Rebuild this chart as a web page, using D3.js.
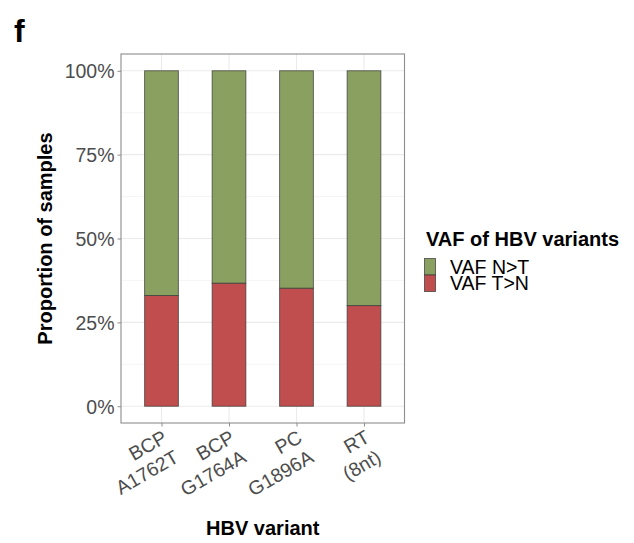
<!DOCTYPE html>
<html>
<head>
<meta charset="utf-8">
<script src="https://cdn.jsdelivr.net/npm/d3@7"></script>
<style>
  html, body { margin: 0; padding: 0; background: #fff; }
  svg { display: block; font-family: "Liberation Sans", Arial, sans-serif; }
</style>
</head>
<body>
<svg id="chart" width="634" height="543"></svg>
<script>
// HBV variant categories (two-line tick labels)
const categories = ["BCP A1762T", "BCP G1764A", "PC G1896A", "RT (8nt)"];
const categoryLines = [["BCP", "A1762T"], ["BCP", "G1764A"], ["PC", "G1896A"], ["RT", "(8nt)"]];
// Proportion of samples with VAF T>N (tumour > normal); remainder is N>T
const vafTgtN = [0.330, 0.367, 0.352, 0.300];
const vafNgtT = vafTgtN.map(v => 1 - v);
const seriesNames = ["VAF N>T", "VAF T>N"];
const seriesColors = ["#8aa060", "#c04e4e"];
const yTicks = [0, 0.25, 0.5, 0.75, 1];
const yMinor = [0.125, 0.375, 0.625, 0.875];

const svg = d3.select("#chart");
const panel = { left: 121, right: 404.5, top: 54, bottom: 423 };

// ggplot-like expansion: 5% on continuous y, 0.6 units on discrete x
const y = d3.scaleLinear()
  .domain([-0.05, 1.05])
  .range([panel.bottom, panel.top]);
const x = d3.scalePoint()
  .domain(categories)
  .range([panel.left, panel.right])
  .padding(0.6);
const barW = x.step() * 0.5;

// Gridlines
const grid = svg.append("g");
grid.selectAll(".minor").data(yMinor).join("line")
  .attr("x1", panel.left).attr("x2", panel.right)
  .attr("y1", d => y(d)).attr("y2", d => y(d))
  .attr("stroke", "#f3f3f3").attr("stroke-width", 0.8);
grid.selectAll(".major").data(yTicks).join("line")
  .attr("x1", panel.left).attr("x2", panel.right)
  .attr("y1", d => y(d)).attr("y2", d => y(d))
  .attr("stroke", "#ebebeb").attr("stroke-width", 1.1);
grid.selectAll(".vmajor").data(categories).join("line")
  .attr("x1", d => x(d)).attr("x2", d => x(d))
  .attr("y1", panel.top).attr("y2", panel.bottom)
  .attr("stroke", "#ebebeb").attr("stroke-width", 1.1);

// Stacked bars
const stackData = categories.map((c, i) => ({ cat: c, "VAF T>N": vafTgtN[i], "VAF N>T": vafNgtT[i] }));
const stack = d3.stack().keys(["VAF T>N", "VAF N>T"]);
const layers = stack(stackData);
const colorOf = d3.scaleOrdinal().domain(seriesNames).range(seriesColors);

svg.append("g").selectAll("g").data(layers).join("g")
  .attr("fill", d => colorOf(d.key))
  .selectAll("rect").data(d => d).join("rect")
  .attr("x", d => x(d.data.cat) - barW / 2)
  .attr("width", barW)
  .attr("y", d => y(d[1]))
  .attr("height", d => y(d[0]) - y(d[1]))
  .attr("stroke", "#3a3a3a")
  .attr("stroke-opacity", 0.8)
  .attr("stroke-width", 0.9);

// Panel border
svg.append("rect")
  .attr("x", panel.left).attr("y", panel.top)
  .attr("width", panel.right - panel.left).attr("height", panel.bottom - panel.top)
  .attr("fill", "none").attr("stroke", "#8c8c8c").attr("stroke-width", 1.1);

// Y axis
const yAxis = d3.axisLeft(y).tickValues(yTicks).tickSize(3.5).tickPadding(3)
  .tickFormat(d3.format(".0%"));
const gy = svg.append("g").attr("transform", `translate(${panel.left},0)`).call(yAxis);
gy.select(".domain").remove();
gy.selectAll(".tick line").attr("stroke", "#8c8c8c");
gy.selectAll(".tick text")
  .attr("fill", "#4d4d4d")
  .style("font-size", "19.5px")
  .attr("dy", "0.36em");

// X axis
const xAxis = d3.axisBottom(x).tickSize(3.5).tickFormat("");
const gx = svg.append("g").attr("transform", `translate(0,${panel.bottom})`).call(xAxis);
gx.select(".domain").remove();
gx.selectAll(".tick line").attr("stroke", "#8c8c8c");

// Rotated two-line x labels, right-aligned
const xl = svg.append("g").selectAll("g").data(categories).join("g")
  .attr("transform", d => `translate(${x(d)},${panel.bottom + 6}) rotate(-30)`);
xl.append("text")
  .attr("text-anchor", "end")
  .attr("fill", "#4d4d4d")
  .style("font-size", "19.5px")
  .selectAll("tspan").data((d, i) => categoryLines[i]).join("tspan")
  .attr("x", 0)
  .attr("y", (d, j) => 14 + j * 23)
  .text(d => d);

// Axis titles
svg.append("text")
  .attr("x", (panel.left + panel.right) / 2).attr("y", 535)
  .attr("text-anchor", "middle")
  .style("font-size", "20px").style("font-weight", "bold")
  .text("HBV variant");
svg.append("text")
  .attr("transform", `translate(52,${(panel.top + panel.bottom) / 2}) rotate(-90)`)
  .attr("text-anchor", "middle")
  .style("font-size", "20px").style("font-weight", "bold")
  .text("Proportion of samples");

// Panel tag
svg.append("text")
  .attr("x", 14).attr("y", 42)
  .style("font-size", "32px").style("font-weight", "bold")
  .text("f");

// Legend
const legend = svg.append("g");
legend.append("text")
  .attr("x", 426).attr("y", 246)
  .style("font-size", "20px").style("font-weight", "bold")
  .text("VAF of HBV variants");
const items = legend.selectAll(".item").data(seriesNames).join("g")
  .attr("transform", (d, i) => `translate(424.5,${258.5 + i * 16.5})`);
items.append("rect")
  .attr("width", 11).attr("height", 16.5)
  .attr("fill", d => colorOf(d))
  .attr("stroke", "#3a3a3a").attr("stroke-opacity", 0.8).attr("stroke-width", 0.9);
items.append("text")
  .attr("x", 25.5).attr("y", 8.25).attr("dy", "0.36em")
  .style("font-size", "19.5px")
  .text(d => d);
</script>
</body>
</html>
